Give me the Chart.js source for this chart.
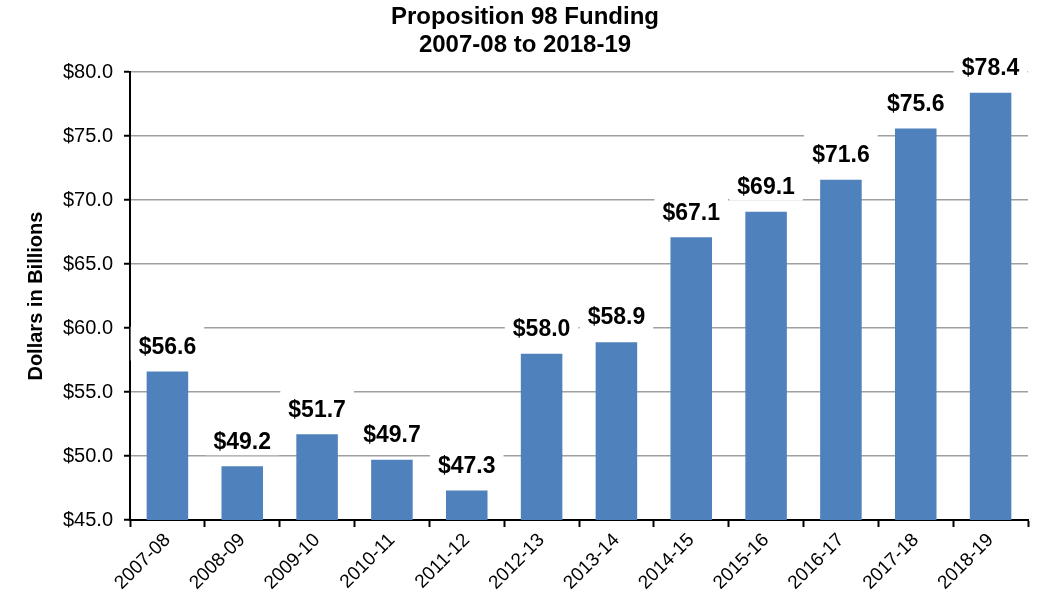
<!DOCTYPE html>
<html>
<head>
<meta charset="utf-8">
<script src="https://cdn.jsdelivr.net/npm/chart.js@4.4.1/dist/chart.umd.min.js"></script>
<style>
  html, body { margin: 0; padding: 0; background: #fff; }
  #wrap { width: 1060px; height: 612px; position: relative; }
</style>
</head>
<body>
<div id="wrap"><canvas id="chart"></canvas></div>
<script>
const years = ["2007-08", "2008-09", "2009-10", "2010-11", "2011-12", "2012-13",
  "2013-14", "2014-15", "2015-16", "2016-17", "2017-18", "2018-19"]
const funding = [56.6, 49.2, 51.7, 49.7, 47.3, 58.0, 58.9, 67.1, 69.1, 71.6, 75.6, 78.4]
const yMin = 45
const yMax = 80
const yStep = 5

const FONT = "'Liberation Sans', Arial, sans-serif"
const LABEL_FONT = "bold 23px " + FONT

// value labels with white boxes behind them (boxes sit under the bars, text on top)
const valueLabels = {
  id: "valueLabels",
  beforeDatasetsDraw(chart) {
    const ctx = chart.ctx
    const meta = chart.getDatasetMeta(0)
    ctx.save()
    ctx.font = LABEL_FONT
    meta.data.forEach((bar, i) => {
      const text = "$" + funding[i].toFixed(1)
      const w = ctx.measureText(text).width + 16
      const cy = bar.y - 24
      ctx.fillStyle = "#fff"
      ctx.fillRect(bar.x - w / 2, cy - 21, w, 34)
    })
    ctx.restore()
  },
  afterDatasetsDraw(chart) {
    const ctx = chart.ctx
    const meta = chart.getDatasetMeta(0)
    ctx.save()
    ctx.font = LABEL_FONT
    ctx.fillStyle = "#000"
    ctx.textAlign = "center"
    ctx.textBaseline = "middle"
    meta.data.forEach((bar, i) => {
      ctx.fillText("$" + funding[i].toFixed(1), bar.x, bar.y - 24)
    })
    ctx.restore()
  },
}

new Chart(document.getElementById("chart"), {
  type: "bar",
  data: {
    labels: years,
    datasets: [{
      data: funding,
      backgroundColor: "#4F81BD",
      borderWidth: 0,
      categoryPercentage: 0.75,
      barPercentage: 0.74,
    }],
  },
  options: {
    responsive: true,
    maintainAspectRatio: false,
    animation: false,
    layout: { padding: { left: 22, right: 32, top: 0, bottom: 0 } },
    plugins: {
      legend: { display: false },
      tooltip: { enabled: false },
      title: {
        display: true,
        text: ["Proposition 98 Funding", "2007-08 to 2018-19"],
        color: "#000",
        font: { family: FONT, size: 24, weight: "bold", lineHeight: 1.17 },
        padding: { top: 3, bottom: 13 },
      },
    },
    scales: {
      x: {
        grid: {
          offset: true,
          drawOnChartArea: false,
          drawTicks: true,
          tickLength: 7,
          tickColor: "#000",
          tickWidth: 2,
        },
        border: { color: "#000", width: 2 },
        ticks: {
          color: "#000",
          font: { family: FONT, size: 19 },
          maxRotation: 45,
          minRotation: 45,
          padding: 2,
        },
        afterFit: (s) => { s.height = 92 },
      },
      y: {
        min: yMin,
        max: yMax,
        grid: {
          color: "#a0a0a0",
          lineWidth: 1.5,
          drawTicks: true,
          tickLength: 6,
          tickColor: "#000",
          tickWidth: 2,
        },
        border: { color: "#000", width: 2 },
        ticks: {
          stepSize: yStep,
          color: "#000",
          font: { family: FONT, size: 20 },
          padding: 11,
          callback: (v) => "$" + Number(v).toFixed(1),
        },
        title: {
          display: true,
          text: "Dollars in Billions",
          color: "#000",
          font: { family: FONT, size: 20, weight: "bold" },
          padding: { top: 2, bottom: 0 },
        },
        afterFit: (s) => { s.width = 108 },
      },
    },
  },
  plugins: [valueLabels],
})
</script>
</body>
</html>
